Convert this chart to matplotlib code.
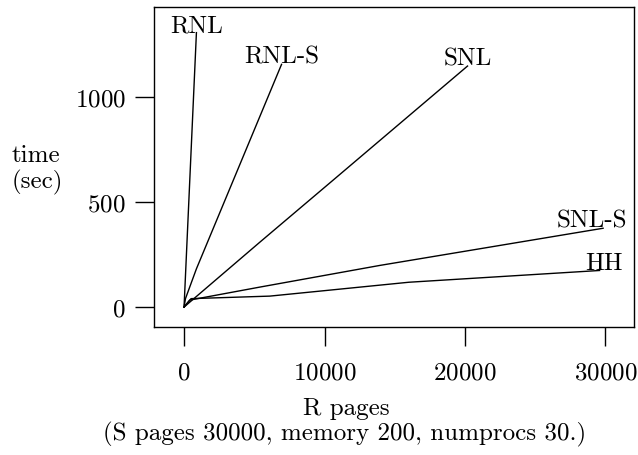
import matplotlib
matplotlib.use('Agg')
import matplotlib.pyplot as plt

plt.rcParams['font.family'] = 'serif'
plt.rcParams['font.serif'] = ['cmr10', 'DejaVu Serif']
plt.rcParams['axes.formatter.use_mathtext'] = True
plt.rcParams['font.size'] = 18

# ── data: R pages vs. time (sec) per join algorithm ───────────────
rnl_r = [0, 880]
rnl_t = [0, 1306]

rnls_r = [0, 100, 880, 6940]
rnls_t = [0, 40, 182, 1155]

snl_r = [0, 5400, 10700, 20180]
snl_t = [0, 309, 609, 1147]

snls_r = [0, 400, 5400, 13930, 29830]
snls_t = [0, 33, 95, 198, 375]

hh_r = [0, 500, 6100, 16000, 29580]
hh_t = [0, 40, 52, 118, 174]

series = [
    ("RNL", rnl_r, rnl_t, (0, 1)),
    ("RNL-S", rnls_r, rnls_t, (0, 1)),
    ("SNL", snl_r, snl_t, (0, 1)),
    ("SNL-S", snls_r, snls_t, (-8, 1)),
    ("HH", hh_r, hh_t, (3, 1)),
]

fig = plt.figure(figsize=(6.38, 4.56), dpi=100)
ax = fig.add_axes([154 / 638, 1 - 328 / 456, 480 / 638, 320 / 456])

for name, r, t, off in series:
    ax.plot(r, t, color='black', lw=1.0)
    ax.annotate(name, xy=(r[-1], t[-1]), xytext=off, textcoords='offset points',
                ha='center', va='baseline')

ax.set_xlim(-2140, 32030)
ax.set_ylim(-95, 1428)
ax.set_xticks([0, 10000, 20000, 30000])
ax.set_yticks([0, 500, 1000])
ax.tick_params(direction='out', length=13.5, width=1.0, pad=7)
ax.tick_params(axis='x', pad=11)
for s in ax.spines.values():
    s.set_linewidth(1.0)

fig.text(12 / 638, 1 - 170 / 456, "time\n(sec)", ha='left', va='center',
         linespacing=1.2)
fig.text(346 / 638, 1 - 409 / 456, "R pages", ha='center', va='center')
fig.text(345 / 638, 1 - 434 / 456, "(S pages 30000, memory 200, numprocs 30.)",
         ha='center', va='center')

fig.savefig('out.png', dpi=100)
